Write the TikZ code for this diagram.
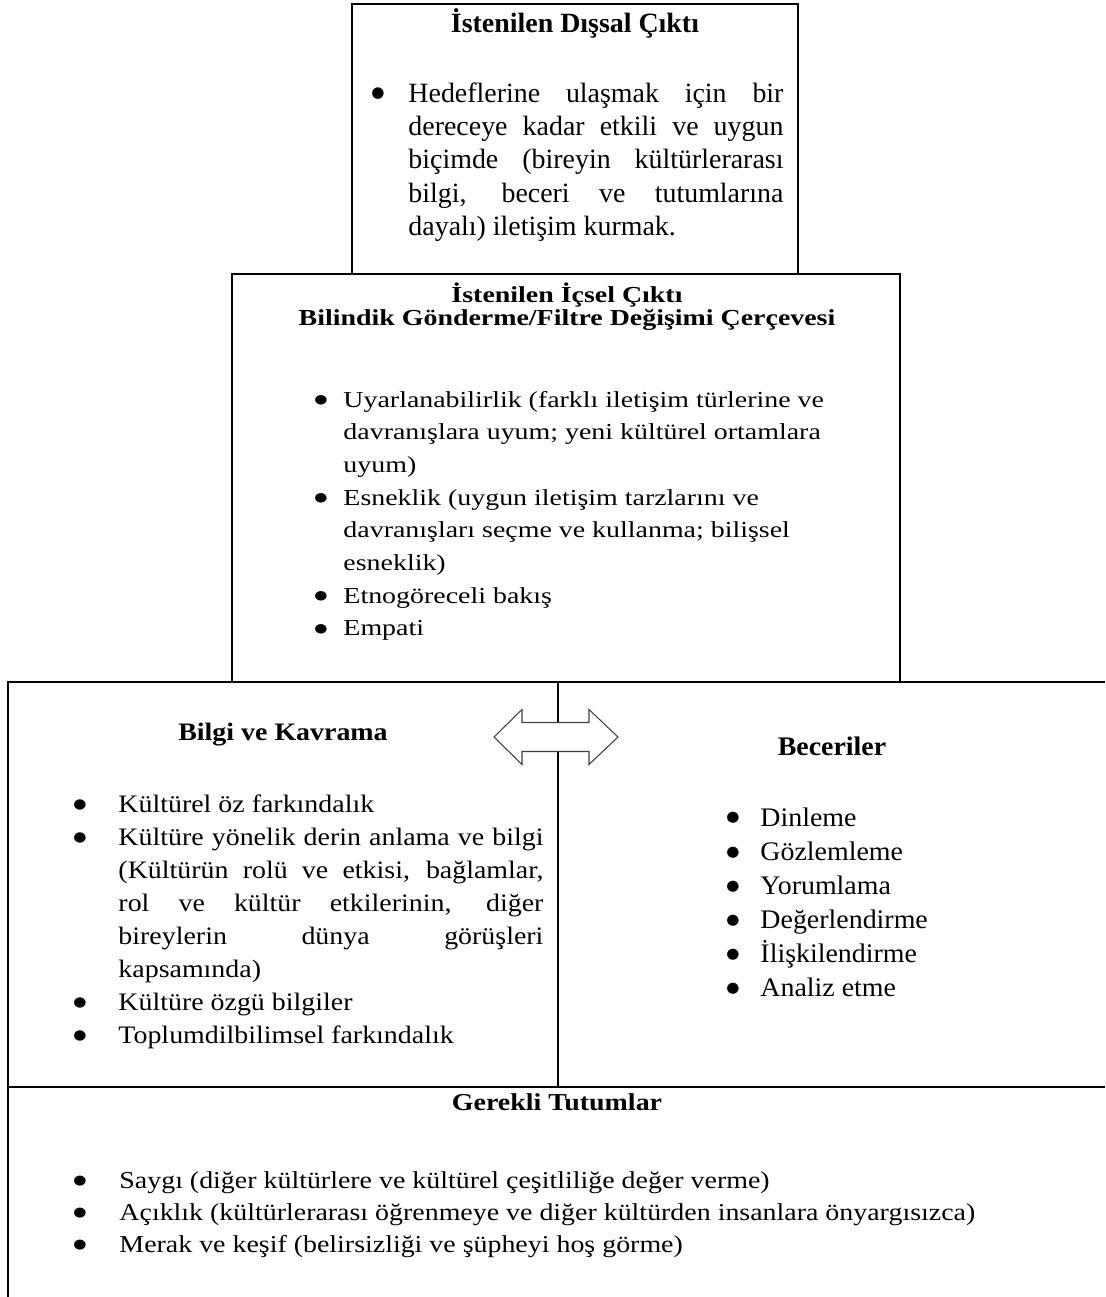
\documentclass[tikz,border=0pt]{standalone}
\usepackage{fontspec}
\setmainfont{Liberation Serif}
\newfontfamily\symfont{DejaVu Sans}
\usepackage{graphicx}
\newlength\px
\setlength\px{0.43pt}
\newlength\tw
% bullet glyph, without height or depth of its own
\newcommand\bulmark{\raisebox{1.8pt}[0pt][0pt]{\fontsize{6.5pt}{6.5pt}\symfont ●}}
% one justified line of a bullet text
\newcommand\J[1]{\makebox[\tw][s]{#1}\newline}
% bullet item with hanging indent: bullet column width, body
\newcommand\itm[2]{\setlength\tw{\dimexpr\linewidth-#1\relax}\noindent\hangindent=#1\hangafter=1\makebox[#1][l]{\bulmark}#2\par}
% list block: vertical squeeze, width, baselineskip, items
\newcommand\blk[4]{\scalebox{1}[#1]{\begin{minipage}[t]{#2}\fontsize{12pt}{#3}\selectfont#4\end{minipage}}}
\begin{document}
\begin{tikzpicture}[x=0.43pt, y=-0.43pt,
  frame/.style={line width=1pt},
  arrowshape/.style={draw=black!75, line width=0.45pt, fill=white},
  ttl/.style={anchor=base, inner sep=0pt, font=\fontsize{12pt}{14.4pt}\selectfont\bfseries},
  lst/.style={anchor=base west, inner sep=0pt, font=\fontsize{12pt}{14.4pt}\selectfont}]
\useasboundingbox (0,0) rectangle (1105,1297);

% frames
\draw[frame] (352,274) -- (352,4) -- (798,4) -- (798,274);
\draw[frame] (232,274) rectangle (900,682);
\draw[frame] (8,1297) -- (8,682) -- (1105,682);
\draw[frame] (558,682) -- (558,1087);
\draw[frame] (8,1087) -- (1105,1087);

% double arrow between knowledge and skills
\draw[arrowshape] (494,737) -- (522,709.5) -- (522,722.5) -- (589,722.5) -- (589,709.5)
  -- (618,737) -- (589,764.5) -- (589,751.5) -- (522,751.5) -- (522,764.5) -- cycle;

% external outcome
\node[ttl] (disT) at (575,32) {İstenilen Dışsal Çıktı};
\node[lst] (disL) at (371,102) {\blk{1}{412\px}{14.4pt}{%
  \itm{37\px}{\J{Hedeflerine ulaşmak için bir}\J{dereceye kadar etkili ve uygun}\J{biçimde (bireyin kültürlerarası}\J{bilgi, beceri ve tutumlarına}dayalı) iletişim kurmak.}}};

% internal outcome
\node[ttl] (icT1) at (567,302) {\scalebox{1}[0.82]{İstenilen İçsel Çıktı}};
\node[ttl] (icT2) at (567,325) {\scalebox{1}[0.82]{Bilindik Gönderme/Filtre Değişimi Çerçevesi}};
\node[lst] (icL) at (314,407) {\blk{0.82}{574\px}{17.15pt}{%
  \itm{29\px}{Uyarlanabilirlik (farklı iletişim türlerine ve\\davranışlara uyum; yeni kültürel ortamlara\\uyum)}%
  \itm{29\px}{Esneklik (uygun iletişim tarzlarını ve\\davranışları seçme ve kullanma; bilişsel\\esneklik)}%
  \itm{29\px}{Etnogöreceli bakış}%
  \itm{29\px}{Empati}}};

% knowledge and comprehension
\node[ttl] (bkT) at (283,740) {\scalebox{1}[0.9]{Bilgi ve Kavrama}};
\node[lst] (bkL) at (73,812) {\blk{0.9}{470\px}{15.77pt}{%
  \itm{45\px}{Kültürel öz farkındalık}%
  \itm{45\px}{\J{Kültüre yönelik derin anlama ve bilgi}\J{(Kültürün rolü ve etkisi, bağlamlar,}\J{rol ve kültür etkilerinin, diğer}\J{bireylerin dünya görüşleri}kapsamında)}%
  \itm{45\px}{Kültüre özgü bilgiler}%
  \itm{45\px}{Toplumdilbilimsel farkındalık}}};

% skills
\node[ttl] (bcT) at (832,755) {\scalebox{1}[0.96]{Beceriler}};
\node[lst] (bcL) at (726,826) {\blk{0.96}{334\px}{15.3pt}{%
  \itm{34\px}{Dinleme}%
  \itm{34\px}{Gözlemleme}%
  \itm{34\px}{Yorumlama}%
  \itm{34\px}{Değerlendirme}%
  \itm{34\px}{İlişkilendirme}%
  \itm{34\px}{Analiz etme}}};

% required attitudes
\node[ttl] (ttT) at (557,1110) {\scalebox{1}[0.87]{Gerekli Tutumlar}};
\node[lst] (ttL) at (73,1188) {\blk{0.87}{996\px}{15.97pt}{%
  \itm{46\px}{Saygı (diğer kültürlere ve kültürel çeşitliliğe değer verme)}%
  \itm{46\px}{Açıklık (kültürlerarası öğrenmeye ve diğer kültürden insanlara önyargısızca)}%
  \itm{46\px}{Merak ve keşif (belirsizliği ve şüpheyi hoş görme)}}};
\end{tikzpicture}
\end{document}
